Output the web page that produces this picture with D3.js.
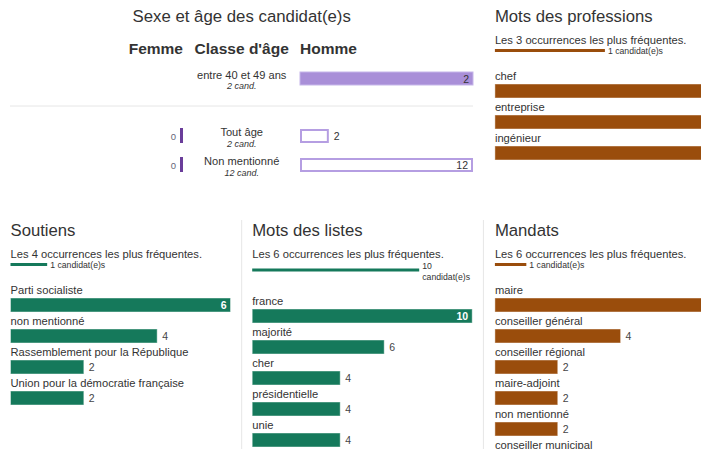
<html>
<head>
<meta charset="utf-8">
<script src="https://cdn.jsdelivr.net/npm/d3@7"></script>
<style>
  body {
    margin: 0;
    background: #fff;
    font-family: "Liberation Sans", Arial, Helvetica, sans-serif;
  }
  svg text {
    fill: #333;
  }
</style>
</head>
<body>
<svg id="chart"></svg>
<script>
// Sexe et âge des candidat(e)s
const ageClasses = ["entre 40 et 49 ans"];
const ageFemme = [0];
const ageHomme = [2];
const ageCand = [2];
const totalClasses = ["Tout âge", "Non mentionné"];
const totalFemme = [0, 0];
const totalHomme = [2, 12];
const totalCand = [2, 12];

// word / category panels
const professionWords = ["chef", "entreprise", "ingénieur"];
const professionCounts = [2, 2, 2];
const soutienNames = ["Parti socialiste", "non mentionné", "Rassemblement pour la République", "Union pour la démocratie française"];
const soutienCounts = [6, 4, 2, 2];
const listeWords = ["france", "majorité", "cher", "présidentielle", "unie"];
const listeCounts = [10, 6, 4, 4, 4];
const mandatNames = ["maire", "conseiller général", "conseiller régional", "maire-adjoint", "non mentionné", "conseiller municipal"];
const mandatCounts = [7, 4, 2, 2, 2, 2];

const width = 701;
const height = 449;
const colW = 241.7;
const pad = 10.5;
const innerW = 220;
const green = "#15795b";
const brown = "#9a4d0c";
const lightPurple = "#a98fd8";
const outlinePurple = "#b59ee2";
const darkPurple = "#6a3d9a";

const svg = d3.select("#chart").attr("width", width).attr("height", height);

function drawAgePanel() {
  let cx = colW;
  let femmeEnd = 183;
  let hommeStart = 300;
  let barMax = 173;

  svg.append("text").attr("x", cx).attr("y", 22)
    .attr("text-anchor", "middle").style("font-size", "16.8px")
    .text("Sexe et âge des candidat(e)s");

  let heads = [["Femme", 183, "end"], ["Classe d'âge", cx, "middle"], ["Homme", hommeStart, "start"]];
  heads.forEach(h => {
    svg.append("text").attr("x", h[1]).attr("y", 54).attr("text-anchor", h[2])
      .style("font-size", "15.5px").style("font-weight", "bold").text(h[0]);
  });

  // top section: age classes, filled bars
  let yTop = d3.scaleBand().domain(ageClasses).range([72, 72 + 29 * ageClasses.length]);
  let hxTop = d3.scaleLinear().domain([0, d3.max(ageHomme)]).range([0, barMax]);
  ageClasses.forEach((c, i) => {
    let by = yTop(c);
    svg.append("text").attr("x", cx).attr("y", by + 6.5).attr("text-anchor", "middle")
      .style("font-size", "11.1px").text(c);
    svg.append("text").attr("x", cx).attr("y", by + 17).attr("text-anchor", "middle")
      .style("font-size", "9px").style("font-style", "italic").text(ageCand[i] + " cand.");
    let w = hxTop(ageHomme[i]);
    svg.append("rect").attr("x", hommeStart).attr("y", by).attr("width", w).attr("height", 13)
      .attr("fill", lightPurple).attr("stroke", "#c6b6ea").attr("stroke-width", 1);
    svg.append("text").attr("x", hommeStart + w - 4).attr("y", by + 10.5).attr("text-anchor", "end")
      .style("font-size", "10.5px").text(ageHomme[i]);
    if (ageFemme[i] > 0) {
      let fw = hxTop(ageFemme[i]);
      svg.append("rect").attr("x", femmeEnd - fw).attr("y", by).attr("width", fw).attr("height", 13)
        .attr("fill", darkPurple);
    }
  });

  let sepY = 72 + 29 * ageClasses.length + 5;
  svg.append("line").attr("x1", 10).attr("x2", 473).attr("y1", sepY).attr("y2", sepY)
    .attr("stroke", "#e6e6e6").attr("stroke-width", 1);

  // bottom section: totals, outlined bars
  let yBot = d3.scaleBand().domain(totalClasses).range([129, 129 + 29 * totalClasses.length]);
  let hx = d3.scaleLinear().domain([0, d3.max(totalHomme)]).range([0, barMax]);
  totalClasses.forEach((c, i) => {
    let by = yBot(c);
    svg.append("text").attr("x", cx).attr("y", by + 7).attr("text-anchor", "middle")
      .style("font-size", "11.1px").text(c);
    svg.append("text").attr("x", cx).attr("y", by + 17.5).attr("text-anchor", "middle")
      .style("font-size", "9px").style("font-style", "italic").text(totalCand[i] + " cand.");
    let w = hx(totalHomme[i]);
    svg.append("rect").attr("x", hommeStart + 1).attr("y", by + 1).attr("width", w - 2).attr("height", 12)
      .attr("fill", "#fff").attr("stroke", outlinePurple).attr("stroke-width", 2);
    let inside = w > barMax - 25;
    svg.append("text").attr("x", inside ? hommeStart + w - 5 : hommeStart + w + 5)
      .attr("y", by + 10.5).attr("text-anchor", inside ? "end" : "start")
      .style("font-size", "10.5px").text(totalHomme[i]);
    // femme side: outline only, a zero count still shows as a thin 3px mark
    let fw = hx(totalFemme[i]);
    svg.append("rect").attr("x", femmeEnd - fw - 3).attr("y", by - 1).attr("width", fw + 3).attr("height", 15)
      .attr("fill", darkPurple);
    svg.append("text").attr("x", femmeEnd - fw - 7).attr("y", by + 10.5).attr("text-anchor", "end")
      .style("font-size", "9.5px").style("fill", "#667").text(totalFemme[i]);
  });
}

function drawWordPanel(p) {
  let g = svg.append("g").attr("transform", `translate(${p.x},${p.y})`);
  g.append("text").attr("y", 0).style("font-size", "16.7px").text(p.title);
  g.append("text").attr("y", 22).style("font-size", "11.2px")
    .text(`Les ${p.topN} occurrences les plus fréquentes.`);

  let x = d3.scaleLinear().domain([0, d3.max(p.counts)]).range([0, innerW]);

  // legend: a line for legendValue candidates, wrapped if it doesn't fit
  let legendLen = x(p.legendValue);
  let lines = [p.legendValue + " candidat(e)s"];
  if (legendLen > innerW - 53) {
    legendLen = innerW - 53;
    lines = [String(p.legendValue), "candidat(e)s"];
  }
  let extra = (lines.length - 1) * 11;
  let ly = 28.5 + extra / 2;
  g.append("line").attr("x1", 0).attr("x2", legendLen).attr("y1", ly).attr("y2", ly)
    .attr("stroke", p.color).attr("stroke-width", 3);
  lines.forEach((t, i) => {
    g.append("text").attr("x", legendLen + 3).attr("y", 31.5 + i * 11 + (lines.length - 1))
      .style("font-size", "8.7px").text(t);
  });

  let top = 46 + extra;
  let y = d3.scaleBand().domain(p.names).range([top, top + 31 * p.names.length]);

  let rows = g.selectAll(".row").data(p.names).enter().append("g").attr("class", "row")
    .attr("transform", d => `translate(0,${y(d)})`);

  rows.append("text").attr("y", 12).style("font-size", "11.2px").text(d => d);
  rows.append("rect").attr("y", 16).attr("height", 14)
    .attr("width", (d, i) => x(p.counts[i]))
    .attr("fill", p.color).attr("stroke", "#fff").attr("stroke-opacity", 0.45);

  let isInside = i => x(p.counts[i]) > innerW - 25;
  // value labels; the ones that fall past the window's right edge are left out
  rows.filter((d, i) => !(isInside(i) && p.x + x(p.counts[i]) > width))
    .append("text")
    .attr("x", d => { let i = p.names.indexOf(d); return isInside(i) ? x(p.counts[i]) - 4 : x(p.counts[i]) + 5; })
    .attr("y", 26.5)
    .attr("text-anchor", d => isInside(p.names.indexOf(d)) ? "end" : "start")
    .style("font-size", "10.5px")
    .style("font-weight", d => isInside(p.names.indexOf(d)) ? "bold" : "normal")
    .style("fill", d => isInside(p.names.indexOf(d)) ? "#fff" : "#444")
    .text(d => p.counts[p.names.indexOf(d)]);
}

function drawSeparators() {
  [colW, colW * 2].forEach(sx => {
    svg.append("line").attr("x1", sx).attr("x2", sx).attr("y1", 220).attr("y2", height)
      .attr("stroke", "#e6e6e6").attr("stroke-width", 1);
  });
}

drawAgePanel();
drawSeparators();
drawWordPanel({ title: "Mots des professions", names: professionWords, counts: professionCounts,
  color: brown, legendValue: 1, topN: 3, x: colW * 2 + 11.5, y: 22 });
drawWordPanel({ title: "Soutiens", names: soutienNames, counts: soutienCounts,
  color: green, legendValue: 1, topN: 4, x: pad, y: 236 });
drawWordPanel({ title: "Mots des listes", names: listeWords, counts: listeCounts,
  color: green, legendValue: 10, topN: 6, x: colW + pad, y: 236 });
drawWordPanel({ title: "Mandats", names: mandatNames, counts: mandatCounts,
  color: brown, legendValue: 1, topN: 6, x: colW * 2 + 11.5, y: 236 });
</script>
</body>
</html>
